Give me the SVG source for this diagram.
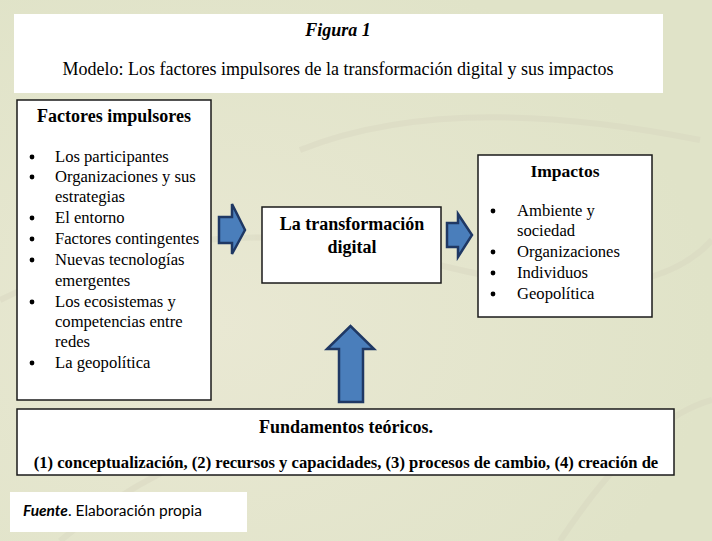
<svg xmlns="http://www.w3.org/2000/svg" width="712" height="541" viewBox="0 0 712 541">
<defs>
<style>
.serif{font-family:"Liberation Serif","Times New Roman",serif;fill:#000}
.b{font-weight:bold}
.box{fill:#fff;stroke:#1a1a1a;stroke-width:1.5}
.arrow{fill:#4a7ebb;stroke:#1f3864;stroke-width:2.5;stroke-linejoin:miter}
.item{font-size:16.6px}
</style>
<radialGradient id="g1" cx="0.3" cy="0.6" r="0.7">
<stop offset="0" stop-color="#e9e8d3"/>
<stop offset="1" stop-color="#e0e3c8"/>
</radialGradient>
</defs>
<rect x="0" y="0" width="712" height="541" fill="url(#g1)"/>
<g fill="none" stroke="#d8d6c0" stroke-width="6" opacity="0.45">
<path d="M0 300 Q200 200 420 260 T712 240"/>
<path d="M60 541 Q250 380 500 440"/>
<path d="M560 541 Q640 420 712 400"/>
<path d="M300 150 Q450 90 700 140"/>
</g>

<g id="title">
<rect x="14" y="14" width="649" height="79" fill="#fff"/>
<text class="serif b" x="338" y="36" font-size="18" font-style="italic" text-anchor="middle">Figura 1</text>
<text class="serif" x="338" y="75" font-size="18" text-anchor="middle">Modelo: Los factores impulsores de la transformación digital y sus impactos</text>
</g>

<g id="factores">
<rect class="box" x="17" y="100" width="194" height="300"/>
<text class="serif b" x="114" y="122" font-size="18" text-anchor="middle">Factores impulsores</text>
<g class="serif item">
<text x="55" y="162">Los participantes</text>
<text x="55" y="182">Organizaciones y sus</text>
<text x="55" y="202">estrategias</text>
<text x="55" y="223">El entorno</text>
<text x="55" y="244">Factores contingentes</text>
<text x="55" y="265">Nuevas tecnologías</text>
<text x="55" y="286">emergentes</text>
<text x="55" y="307">Los ecosistemas y</text>
<text x="55" y="327">competencias entre</text>
<text x="55" y="347">redes</text>
<text x="55" y="368">La geopolítica</text>
</g>
<g fill="#000">
<circle cx="32" cy="157" r="2.4"/>
<circle cx="32" cy="177" r="2.4"/>
<circle cx="32" cy="218" r="2.4"/>
<circle cx="32" cy="239" r="2.4"/>
<circle cx="32" cy="260" r="2.4"/>
<circle cx="32" cy="302" r="2.4"/>
<circle cx="32" cy="363" r="2.4"/>
</g>
</g>

<g id="transformacion">
<rect class="box" x="262" y="207" width="179" height="76"/>
<text class="serif b" x="352" y="230" font-size="18" text-anchor="middle">La transformación</text>
<text class="serif b" x="352" y="253" font-size="18" text-anchor="middle">digital</text>
</g>

<g id="impactos">
<rect class="box" x="478" y="155" width="174" height="162"/>
<text class="serif b" x="565" y="177" font-size="17.5" text-anchor="middle">Impactos</text>
<g class="serif item">
<text x="517" y="216">Ambiente y</text>
<text x="517" y="236">sociedad</text>
<text x="517" y="257">Organizaciones</text>
<text x="517" y="278">Individuos</text>
<text x="517" y="299">Geopolítica</text>
</g>
<g fill="#000">
<circle cx="493" cy="211" r="2.4"/>
<circle cx="493" cy="252" r="2.4"/>
<circle cx="493" cy="273" r="2.4"/>
<circle cx="493" cy="294" r="2.4"/>
</g>
</g>

<g id="fundamentos">
<rect class="box" x="17" y="409" width="657" height="66"/>
<text class="serif b" x="346" y="433" font-size="18" text-anchor="middle">Fundamentos teóricos.</text>
<text class="serif b" x="346" y="468" font-size="16.6" text-anchor="middle">(1) conceptualización, (2) recursos y capacidades, (3) procesos de cambio, (4) creación de</text>
</g>

<g id="fuente">
<rect x="10" y="492" width="237" height="40" fill="#fff"/>
<text x="23" y="516" font-family="Lato,'Open Sans',sans-serif" font-size="15.5" fill="#000"><tspan font-weight="bold" font-style="italic">Fuente</tspan>. Elaboración propia</text>
</g>

<g id="connectors">
<path class="arrow" d="M219 217 H232 V204 L245 230 L232 254 V243 H219 Z"/>
<path class="arrow" d="M447 223 H458 V214 L472 235 L458 257 V247 H447 Z"/>
<path class="arrow" d="M339 402 V349 H327 L350.5 326 L374 349 H363 V402 Z"/>
</g>
</svg>
